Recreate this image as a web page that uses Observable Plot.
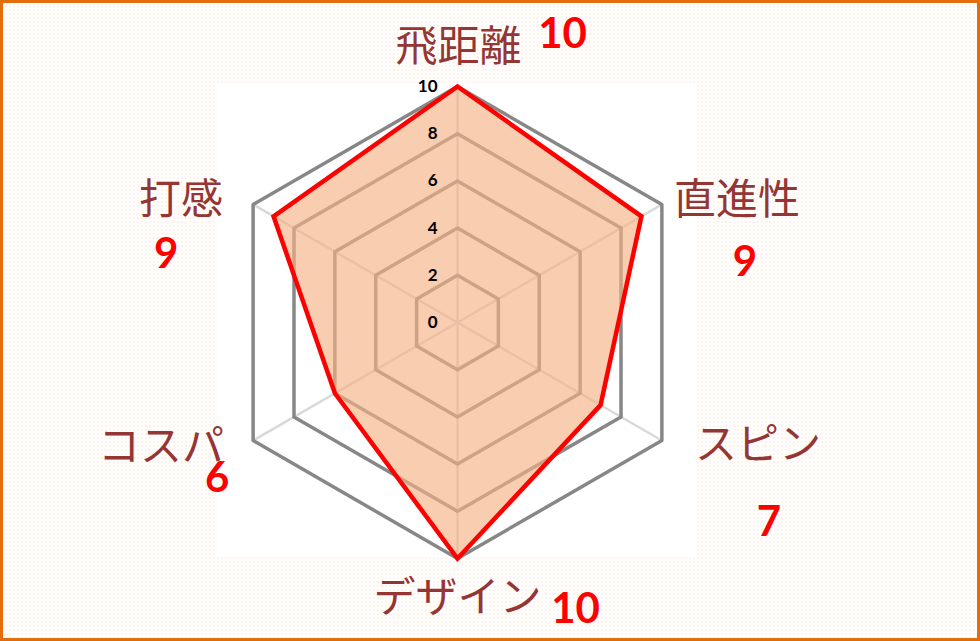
<!DOCTYPE html>
<html>
<head>
<meta charset="utf-8">
<script src="https://cdn.jsdelivr.net/npm/d3@7"></script>
<script src="https://cdn.jsdelivr.net/npm/@observablehq/plot@0.6"></script>
<style>
  html, body { margin: 0; padding: 0; background: #ffffff; }
  #wrap {
    position: relative; width: 980px; height: 641px; overflow: hidden;
    background-color: #fffefd;
    background-image: radial-gradient(circle, #fde8d8 0.6px, transparent 0.8px);
    background-size: 4px 4px;
  }
  #border {
    position: absolute; left: 0; top: 0; width: 980px; height: 641px;
    box-sizing: border-box; border: 3px solid #e46c0a; pointer-events: none;
  }
  #wrap svg { position: absolute; left: 0; top: 0; }
</style>
</head>
<body>
<div id="wrap"><div id="border"></div></div>
<script>
// ---- data ----
const categories = ["飛距離", "直進性", "スピン", "デザイン", "コスパ", "打感"];
const values = [10, 9, 7, 10, 6, 9];
const tickLevels = [0, 2, 4, 6, 8, 10];
const maxValue = 10;

// ---- layout (pixels) ----
const W = 980, H = 641;
const cx = 457, cy = 322, radiusPx = 236;
const plotBox = {left: 217, right: 695, top: 83, bottom: 557};
const k = radiusPx / maxValue;
// label offsets (px) from the end of each axis: [labelDx, labelDy, valueDx, valueDy]
const labelOffsets = [
  [1, -39, 105, -52],
  [75, -4, 83, 58],
  [96, 5, 107, 82],
  [0, 40, 118, 51],
  [-92, 7, -36, 38],
  [-72, -4, -87, 50]
];

const n = categories.length;
const ang = i => (i * 2 * Math.PI) / n;
const px = (r, i) => r * Math.sin(ang(i));
const py = (r, i) => r * Math.cos(ang(i));

const axes = categories.map((c, i) => ({cat: c, i, value: values[i]}));
const ringPts = [];
tickLevels.filter(l => l > 0).forEach(l => categories.forEach((c, i) => ringPts.push({level: l, i})));

const catFont = "'Noto Sans CJK JP', 'Noto Sans', sans-serif";
const numFont = "Lato, 'Open Sans', sans-serif";

const labelMarks = [];
axes.forEach(a => {
  const [ldx, ldy, vdx, vdy] = labelOffsets[a.i];
  labelMarks.push(Plot.text([a], {
    x: d => px(maxValue, d.i), y: d => py(maxValue, d.i), text: "cat",
    dx: ldx, dy: ldy, fontSize: 42, fill: "#943634", fontFamily: catFont,
    textAnchor: "middle", lineAnchor: "middle"
  }));
  labelMarks.push(Plot.text([a], {
    x: d => px(maxValue, d.i), y: d => py(maxValue, d.i), text: d => String(d.value),
    dx: vdx, dy: vdy, fontSize: 42, fontWeight: "bold", fill: "#ff0000", fontFamily: numFont,
    textAnchor: "middle", lineAnchor: "middle"
  }));
});

const chart = Plot.plot({
  width: W, height: H,
  marginLeft: plotBox.left, marginRight: W - plotBox.right,
  marginTop: plotBox.top, marginBottom: H - plotBox.bottom,
  x: {domain: [-(cx - plotBox.left) / k, (plotBox.right - cx) / k], axis: null},
  y: {domain: [-(plotBox.bottom - cy) / k, (cy - plotBox.top) / k], axis: null},
  style: {background: "transparent", overflow: "visible"},
  marks: [
    Plot.frame({fill: "white", stroke: "none"}),
    Plot.link(axes, {
      x1: 0, y1: 0, x2: d => px(maxValue, d.i), y2: d => py(maxValue, d.i),
      stroke: "#d9d9d9", strokeWidth: 2.5
    }),
    Plot.line(ringPts, {
      x: d => px(d.level, d.i), y: d => py(d.level, d.i), z: "level",
      curve: "linear-closed", stroke: "#878787", strokeWidth: 3.5
    }),
    Plot.line(axes, {
      x: d => px(d.value, d.i), y: d => py(d.value, d.i),
      curve: "linear-closed", stroke: "none", fill: "#f4b183", fillOpacity: 0.64
    }),
    Plot.line(axes, {
      x: d => px(d.value, d.i), y: d => py(d.value, d.i),
      curve: "linear-closed", stroke: "#ff0000", strokeWidth: 4.5,
      strokeLinejoin: "miter", strokeMiterlimit: 10
    }),
    Plot.text(tickLevels, {
      x: 0, y: d => d, text: d => String(d), dx: -20, textAnchor: "end",
      lineAnchor: "middle", fontSize: 17, fontWeight: "bold", fill: "#000000", fontFamily: numFont
    }),
    ...labelMarks
  ]
});
document.getElementById("wrap").insertBefore(chart, document.getElementById("border"));
</script>
</body>
</html>
